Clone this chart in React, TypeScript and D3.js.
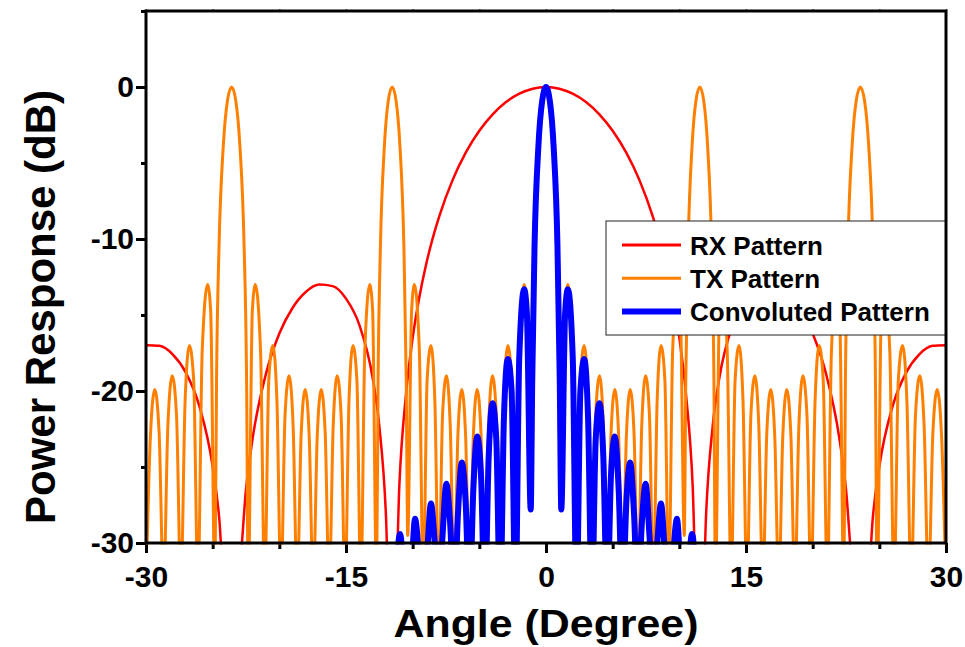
import { useEffect, useRef } from "react";
import * as d3 from "d3";

// [angle (deg), power (dB)]; points below -30 are clipped by the axis
const rxPattern: [number, number][] = [
  [-30, -16.99], [-29, -17.03], [-28, -17.59], [-27, -18.81], [-26, -20.99], [-25, -24.97], [-24.5, -28.45],
  [-24, -35.0], [-23, -31.9], [-22.5, -26.47], [-22, -23.1], [-21, -18.86], [-20, -16.22], [-19, -14.52],
  [-18, -13.47], [-17, -13.0], [-16, -13.1], [-15, -13.92], [-14, -15.65], [-13, -19.14], [-12.5, -22.32],
  [-12, -28.27], [-11.8, -33.0], [-11.3, -33.6], [-11, -26.23], [-10.5, -20.22], [-10, -16.5], [-9.5, -13.83],
  [-9, -11.71], [-8.5, -9.96], [-8, -8.49], [-7, -6.11], [-6, -4.29], [-5, -2.88], [-4, -1.8], [-3, -0.99],
  [-2, -0.44], [-1, -0.11], [0, 0], [1, -0.11], [2, -0.44], [3, -0.99], [4, -1.8], [5, -2.88], [6, -4.29],
  [7, -6.11], [8, -8.49], [8.5, -9.96], [9, -11.71], [9.5, -13.83], [10, -16.5], [10.5, -20.22], [11, -26.23],
  [11.3, -33.6], [11.8, -33.0], [12, -28.27], [12.5, -22.32], [13, -19.14], [14, -15.65], [15, -13.92],
  [16, -13.1], [17, -13.0], [18, -13.47], [19, -14.52], [20, -16.22], [21, -18.86], [22, -23.1], [22.5, -26.47],
  [23, -31.9], [24, -35.0], [24.5, -28.45], [25, -24.97], [26, -20.99], [27, -18.81], [28, -17.59],
  [29, -17.03], [30, -16.99],
];

const txPattern: [number, number][] = [
  [-30, -33], [-29.67, -23.0], [-29.341, -19.9], [-29.013, -22.8], [-28.685, -33], [-28.36, -22.3],
  [-28.034, -19.0], [-27.71, -21.6], [-27.387, -33], [-27.065, -20.6], [-26.744, -17.0], [-26.423, -19.3],
  [-26.104, -33], [-25.786, -17.4], [-25.379, -13.0], [-25.151, -14.7], [-24.835, -33], [-24.708, -19.1],
  [-24.519, -10.4], [-24.205, -3.9], [-23.891, -0.9], [-23.578, 0], [-23.266, -0.9], [-22.955, -3.9],
  [-22.644, -10.4], [-22.458, -19.1], [-22.334, -33], [-22.024, -14.7], [-21.802, -13.0], [-21.408, -17.4],
  [-21.1, -33], [-20.793, -19.3], [-20.487, -17.0], [-20.182, -20.6], [-19.877, -33], [-19.572, -21.6],
  [-19.269, -19.0], [-18.966, -22.3], [-18.663, -33], [-18.361, -22.8], [-18.059, -19.9], [-17.758, -23.0],
  [-17.458, -33], [-17.158, -23.0], [-16.858, -19.9], [-16.559, -22.8], [-16.26, -33], [-15.961, -22.3],
  [-15.664, -19.0], [-15.367, -21.6], [-15.07, -33], [-14.774, -20.6], [-14.478, -17.0], [-14.182, -19.3],
  [-13.887, -33], [-13.592, -17.4], [-13.215, -13.0], [-13.003, -14.7], [-12.71, -33], [-12.592, -19.1],
  [-12.416, -10.4], [-12.122, -3.9], [-11.83, -0.9], [-11.537, 0], [-11.245, -0.9], [-10.953, -3.9],
  [-10.661, -10.4], [-10.486, -19.1], [-10.37, -29.5], [-10.079, -14.7], [-9.869, -13.0], [-9.497, -17.4],
  [-9.207, -33], [-8.917, -19.3], [-8.627, -17.0], [-8.337, -20.6], [-8.048, -33], [-7.759, -21.6],
  [-7.47, -19.0], [-7.181, -22.3], [-6.892, -33], [-6.604, -22.8], [-6.315, -19.9], [-6.027, -23.0],
  [-5.739, -33], [-5.451, -23.0], [-5.164, -19.9], [-4.876, -22.8], [-4.589, -33], [-4.301, -22.3],
  [-4.014, -19.0], [-3.727, -21.6], [-3.44, -33], [-3.153, -20.6], [-2.866, -17.0], [-2.579, -19.3],
  [-2.292, -33], [-2.006, -17.4], [-1.639, -13.0], [-1.433, -14.7], [-1.146, -27.8], [-1.031, -19.1],
  [-0.86, -10.4], [-0.573, -3.9], [-0.287, -0.9],
  [0, 0],
  [0.287, -0.9], [0.573, -3.9], [0.86, -10.4], [1.031, -19.1], [1.146, -27.8], [1.433, -14.7], [1.639, -13.0],
  [2.006, -17.4], [2.292, -33], [2.579, -19.3], [2.866, -17.0], [3.153, -20.6], [3.44, -33], [3.727, -21.6],
  [4.014, -19.0], [4.301, -22.3], [4.589, -33], [4.876, -22.8], [5.164, -19.9], [5.451, -23.0], [5.739, -33],
  [6.027, -23.0], [6.315, -19.9], [6.604, -22.8], [6.892, -33], [7.181, -22.3], [7.47, -19.0], [7.759, -21.6],
  [8.048, -33], [8.337, -20.6], [8.627, -17.0], [8.917, -19.3], [9.207, -33], [9.497, -17.4], [9.869, -13.0],
  [10.079, -14.7], [10.37, -29.5], [10.486, -19.1], [10.661, -10.4], [10.953, -3.9], [11.245, -0.9],
  [11.537, 0], [11.83, -0.9], [12.122, -3.9], [12.416, -10.4], [12.592, -19.1], [12.71, -33], [13.003, -14.7],
  [13.215, -13.0], [13.592, -17.4], [13.887, -33], [14.182, -19.3], [14.478, -17.0], [14.774, -20.6],
  [15.07, -33], [15.367, -21.6], [15.664, -19.0], [15.961, -22.3], [16.26, -33], [16.559, -22.8],
  [16.858, -19.9], [17.158, -23.0], [17.458, -33], [17.758, -23.0], [18.059, -19.9], [18.361, -22.8],
  [18.663, -33], [18.966, -22.3], [19.269, -19.0], [19.572, -21.6], [19.877, -33], [20.182, -20.6],
  [20.487, -17.0], [20.793, -19.3], [21.1, -33], [21.408, -17.4], [21.802, -13.0], [22.024, -14.7],
  [22.334, -33], [22.458, -19.1], [22.644, -10.4], [22.955, -3.9], [23.266, -0.9], [23.578, 0], [23.891, -0.9],
  [24.205, -3.9], [24.519, -10.4], [24.708, -19.1], [24.835, -33], [25.151, -14.7], [25.379, -13.0],
  [25.786, -17.4], [26.104, -33], [26.423, -19.3], [26.744, -17.0], [27.065, -20.6], [27.387, -33],
  [27.71, -21.6], [28.034, -19.0], [28.36, -22.3], [28.685, -33], [29.013, -22.8], [29.341, -19.9],
  [29.67, -23.0], [30, -33],
];

const convPattern: [number, number][] = [
  [-11.537, -40], [-11.245, -32.6], [-10.953, -29.4], [-10.661, -32.2], [-10.37, -36], [-10.079, -31.7],
  [-9.82, -28.4], [-9.497, -31.2], [-9.207, -34], [-8.917, -30.7], [-8.627, -27.4], [-8.337, -30.1],
  [-8.048, -34], [-7.759, -29.5], [-7.47, -26.1], [-7.181, -28.8], [-6.892, -34], [-6.604, -28.1],
  [-6.315, -24.7], [-6.027, -27.3], [-5.739, -34], [-5.451, -26.5], [-5.164, -23.0], [-4.876, -25.5],
  [-4.589, -34], [-4.301, -24.4], [-4.014, -20.8], [-3.727, -23.2], [-3.44, -34], [-3.153, -21.7],
  [-2.866, -17.9], [-2.579, -20.0], [-2.292, -34], [-2.006, -17.8], [-1.639, -13.3], [-1.433, -14.9],
  [-1.146, -27.8], [-1.031, -19.2], [-0.86, -10.48], [-0.573, -3.94], [-0.287, -0.91],
  [0, 0],
  [0.287, -0.91], [0.573, -3.94], [0.86, -10.48], [1.031, -19.2], [1.146, -27.8], [1.433, -14.9],
  [1.639, -13.3], [2.006, -17.8], [2.292, -34], [2.579, -20.0], [2.866, -17.9], [3.153, -21.7], [3.44, -34],
  [3.727, -23.2], [4.014, -20.8], [4.301, -24.4], [4.589, -34], [4.876, -25.5], [5.164, -23.0], [5.451, -26.5],
  [5.739, -34], [6.027, -27.3], [6.315, -24.7], [6.604, -28.1], [6.892, -34], [7.181, -28.8], [7.47, -26.1],
  [7.759, -29.5], [8.048, -34], [8.337, -30.1], [8.627, -27.4], [8.917, -30.7], [9.207, -34], [9.497, -31.2],
  [9.82, -28.4], [10.079, -31.7], [10.37, -36], [10.661, -32.2], [10.953, -29.4], [11.245, -32.6],
  [11.537, -40],
];

const xMajorTicks = [-30, -15, 0, 15, 30];
const xMinorTicks = [-25, -20, -10, -5, 5, 10, 20, 25];
const yMajorTicks = [0, -10, -20, -30];
const yMinorTicks = [5, -5, -15, -25];

const seriesNames = ["RX Pattern", "TX Pattern", "Convoluted Pattern"];
const seriesColors = ["#ff0000", "#ff8000", "#0000ff"];
const seriesWidths = [2.5, 3, 6];

const FONT = "'Liberation Sans', Arial, Helvetica, sans-serif";

const App = () => {
  const chartRef = useRef<SVGSVGElement | null>(null);

  useEffect(() => {
    const W = 965;
    const H = 647;
    const left = 146, right = 946, top = 11, bottom = 543;

    const svg = d3.select(chartRef.current).attr("width", W).attr("height", H);
    svg.selectAll("*").remove();

    const x = d3.scaleLinear().domain([-30, 30]).range([left, right]);
    const y = d3.scaleLinear().domain([-30, 5]).range([bottom, top]);

    svg.append("rect").attr("width", W).attr("height", H).attr("fill", "white");

    // clip for curves
    svg.append("clipPath").attr("id", "plot-clip")
      .append("rect")
      .attr("x", left).attr("y", top)
      .attr("width", right - left).attr("height", bottom - top + 1.5);

    const plain = (d: any) => String(d);

    // ticks
    const styleAxis = (g: any) => {
      g.select(".domain").remove();
      g.selectAll(".tick line").attr("stroke", "#000").attr("stroke-width", 3);
      g.selectAll(".tick text")
        .attr("fill", "#000")
        .style("font-family", FONT)
        .style("font-weight", "bold")
        .style("font-size", "30px");
    };

    svg.append("g")
      .attr("transform", `translate(0,${bottom})`)
      .call(d3.axisBottom(x).tickValues(xMinorTicks).tickSize(6).tickFormat(() => ""))
      .call(styleAxis);
    svg.append("g")
      .attr("transform", `translate(0,${bottom})`)
      .call(d3.axisBottom(x).tickValues(xMajorTicks).tickSize(10).tickPadding(13).tickFormat(plain))
      .call(styleAxis);

    svg.append("g")
      .attr("transform", `translate(0,${top})`)
      .call(d3.axisTop(x).tickValues([...xMajorTicks, ...xMinorTicks]).tickSize(2).tickFormat(() => ""))
      .call(styleAxis)
      .selectAll(".tick line").attr("stroke", "#555").attr("stroke-width", 1.5);

    svg.append("g")
      .attr("transform", `translate(${left},0)`)
      .call(d3.axisLeft(y).tickValues(yMinorTicks).tickSize(5).tickFormat(() => ""))
      .call(styleAxis);
    svg.append("g")
      .attr("transform", `translate(${left},0)`)
      .call(d3.axisLeft(y).tickValues(yMajorTicks).tickSize(10).tickPadding(2).tickFormat(plain))
      .call(styleAxis);

    // curves
    const line = d3.line<[number, number]>()
      .x(d => x(d[0]))
      .y(d => y(d[1]))
      .curve(d3.curveMonotoneX);

    const curves = svg.append("g").attr("clip-path", "url(#plot-clip)");
    [rxPattern, txPattern, convPattern].forEach((data, i) => {
      curves.append("path")
        .datum(data)
        .attr("d", line)
        .attr("fill", "none")
        .attr("stroke", seriesColors[i])
        .attr("stroke-width", seriesWidths[i])
        .attr("stroke-linejoin", "round")
        .attr("stroke-linecap", "round");
    });

    // legend
    const legend = svg.append("g");
    legend.append("rect")
      .attr("x", 606).attr("y", 221)
      .attr("width", right - 606).attr("height", 114)
      .attr("fill", "white")
      .attr("stroke", "#222")
      .attr("stroke-width", 1);

    seriesNames.forEach((name, i) => {
      const ly = 245 + i * 33.3;
      legend.append("line")
        .attr("x1", 622).attr("x2", 681)
        .attr("y1", ly).attr("y2", ly)
        .attr("stroke", seriesColors[i])
        .attr("stroke-width", i === 2 ? 6 : 3);
      legend.append("text")
        .attr("x", 690).attr("y", ly + 9.5)
        .style("font-family", FONT)
        .style("font-weight", "bold")
        .style("font-size", "26px")
        .attr("fill", "#000")
        .text(name);
    });

    // frame
    svg.append("rect")
      .attr("x", left).attr("y", top)
      .attr("width", right - left).attr("height", bottom - top)
      .attr("fill", "none")
      .attr("stroke", "#000")
      .attr("stroke-width", 3);

    // axis titles
    svg.append("text")
      .attr("x", (left + right) / 2)
      .attr("y", 637)
      .attr("text-anchor", "middle")
      .attr("textLength", 305)
      .attr("lengthAdjust", "spacingAndGlyphs")
      .style("font-family", FONT)
      .style("font-weight", "bold")
      .style("font-size", "38px")
      .text("Angle (Degree)");

    svg.append("text")
      .attr("transform", "translate(55,307) rotate(-90)")
      .attr("text-anchor", "middle")
      .style("font-family", FONT)
      .style("font-weight", "bold")
      .style("font-size", "42px")
      .text("Power Response (dB)");

    return () => {
      d3.select(chartRef.current).selectAll("*").remove();
    };
  }, []);

  return (
    <svg
      ref={chartRef}
      style={{ position: "absolute", left: 0, top: 0, display: "block" }}
    ></svg>
  );
};

export default App;
